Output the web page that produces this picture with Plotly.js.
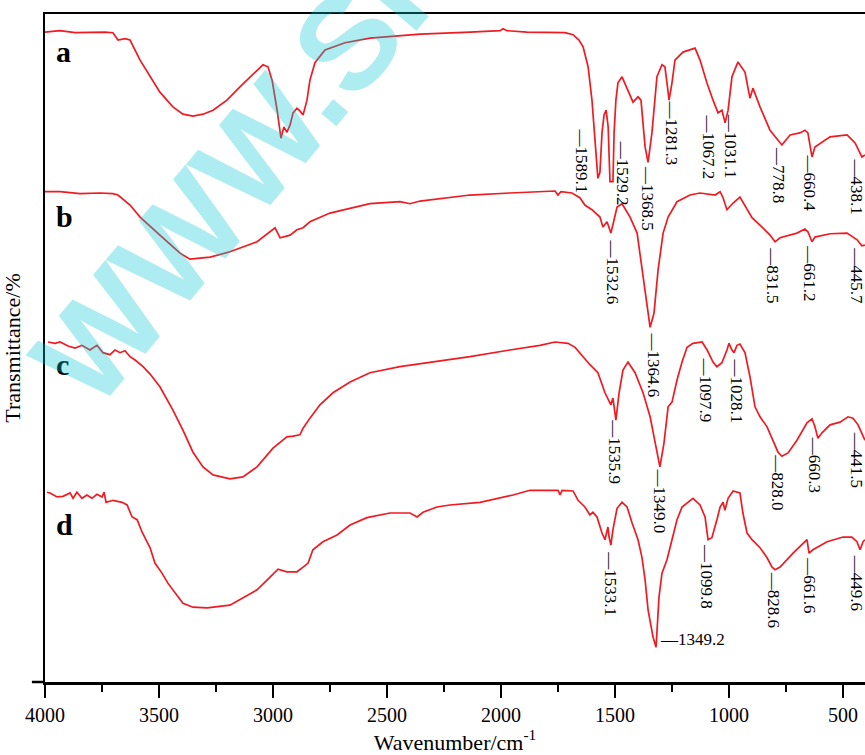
<!DOCTYPE html>
<html>
<head>
<meta charset="utf-8">
<script src="https://cdn.plot.ly/plotly-3.0.1.min.js"></script>
<style>html,body{margin:0;padding:0;background:#fff;}#chart{width:865px;height:755px;}</style>
</head>
<body>
<div id="chart"></div>
<script>
// ---- Data (wavenumber in cm-1, transmittance in stacked % units) ----
const sampleNames = ['a', 'b', 'c', 'd'];

const wnA = [4000,3934,3868,3803,3737,3702,3680,3649,3627,3583,3539,3496,3439,3395,3351,3307,3263,3202,3145,3088,3044,3022,3004,2982,2965,2952,2939,2925,2912,2895,2882,2868,2851,2838,2816,2772,2684,2575,2355,2136,2004,1991,1974,1886,1754,1719,1684,1658,1640,1618,1601,1588,1575,1566,1557,1548,1539,1530,1522,1509,1504,1496,1487,1469,1443,1421,1399,1386,1368,1355,1338,1316,1294,1281,1272,1263,1250,1237,1202,1171,1149,1127,1097,1070,1048,1031,1017,1004,987,961,930,908,895,864,820,768,732,689,667,654,636,623,557,482,447,417,404];
const tA = [97.3,97.5,97.2,97.3,97.3,97.2,96.1,96.3,96.1,93.1,90.6,88.3,86.1,85.0,84.7,85.0,85.6,87.1,89.1,91.0,92.4,92.1,90.1,85.6,81.4,83.1,82.3,83.4,85.2,85.9,85.5,84.9,87.1,90.1,92.7,94.6,95.7,96.4,97.0,97.3,97.5,97.8,97.5,97.3,97.3,97.2,96.9,96.1,95.1,92.1,87.1,81.1,75.4,76.3,82.2,84.9,85.6,83.1,74.9,74.9,82.2,87.1,89.7,90.6,88.6,86.8,87.6,87.1,80.1,77.8,82.2,90.6,92.4,92.1,89.7,87.1,89.7,93.1,94.3,94.6,94.9,93.1,89.7,87.1,85.2,85.6,83.7,85.6,90.6,92.8,91.3,87.4,88.9,86.1,82.6,80.4,81.9,82.2,82.6,82.2,78.6,80.1,81.6,81.9,80.7,78.6,78.9];

const wnB = [4000,3934,3846,3759,3702,3680,3627,3583,3496,3408,3364,3276,3189,3070,2991,2969,2925,2895,2868,2838,2750,2575,2443,2399,2355,2224,2136,1961,1798,1763,1750,1737,1689,1654,1632,1601,1566,1553,1535,1518,1504,1491,1469,1434,1403,1382,1359,1346,1329,1311,1289,1267,1228,1171,1127,1061,1039,1026,1009,982,952,930,899,855,820,798,776,702,667,654,636,623,557,482,438,417,404];
const tB = [73.4,73.4,73.1,73.2,73.1,72.9,71.4,69.6,66.9,64.2,63.3,63.6,64.4,65.9,68.0,66.5,66.9,67.7,68.0,68.9,70.2,71.6,71.9,71.6,72.0,72.5,72.9,73.2,73.5,73.5,72.9,73.4,73.2,72.5,71.4,70.7,69.6,68.1,68.9,67.2,69.2,71.1,71.6,69.6,67.2,62.1,56.1,53.1,55.2,61.7,67.2,69.6,71.9,72.9,73.2,72.9,73.4,72.5,70.7,71.7,72.6,71.4,69.5,68.1,66.9,65.9,66.5,67.2,67.8,67.4,65.9,66.6,67.1,67.2,66.2,65.3,65.4];

const wnC = [3987,3956,3934,3899,3868,3838,3803,3772,3746,3715,3693,3671,3649,3627,3605,3570,3539,3496,3439,3395,3351,3307,3263,3189,3132,3070,3000,2939,2912,2882,2868,2838,2794,2737,2662,2575,2443,2311,2136,1961,1829,1763,1706,1675,1640,1610,1575,1544,1518,1509,1496,1482,1465,1443,1412,1377,1346,1320,1303,1285,1267,1250,1228,1206,1184,1158,1118,1096,1070,1053,1031,1009,1000,987,978,965,952,930,908,886,864,833,807,785,768,741,702,658,636,623,610,592,557,513,478,456,434,417,404];
const tC = [50.9,50.7,50.9,50.3,50.0,50.4,49.7,50.4,49.3,49.0,49.7,49.3,49.6,48.7,48.2,47.2,46.1,44.2,40.7,37.7,34.4,32.2,31.0,30.4,30.7,32.2,35.0,36.7,36.8,37.0,38.0,39.5,41.5,43.3,44.9,46.3,47.2,47.8,48.7,49.7,50.4,50.9,50.7,50.1,48.7,47.5,46.3,43.3,41.5,42.5,39.2,43.3,46.7,47.9,46.3,43.3,39.7,35.2,32.2,35.8,41.2,41.9,45.2,47.9,50.1,50.7,50.9,49.7,47.9,47.2,47.8,49.7,50.7,49.7,49.3,50.4,50.6,49.3,45.7,41.2,39.7,38.2,36.2,34.4,33.8,34.3,36.2,38.8,39.4,38.2,36.5,37.3,38.5,38.9,39.7,39.5,38.5,37.3,36.2];

const wnD = [3991,3978,3947,3921,3890,3877,3860,3838,3816,3794,3772,3750,3741,3732,3702,3662,3640,3618,3596,3575,3553,3539,3518,3487,3461,3421,3395,3351,3289,3189,3132,3070,3013,2978,2939,2895,2868,2846,2825,2781,2719,2662,2588,2487,2399,2368,2342,2281,2224,2092,1947,1873,1750,1741,1732,1684,1662,1632,1610,1597,1579,1557,1544,1531,1526,1518,1509,1491,1469,1447,1425,1399,1382,1368,1355,1342,1333,1320,1316,1307,1294,1272,1250,1228,1206,1158,1127,1105,1092,1075,1053,1039,1026,1018,1004,982,952,939,921,899,864,833,811,798,776,719,658,649,632,570,500,461,439,425,412,404];
const tD = [28.4,28.3,27.7,27.8,28.3,27.5,28.4,27.5,28.0,27.5,28.1,27.7,28.4,26.9,27.2,26.9,26.5,24.7,24.3,22.5,21.0,20.1,17.8,16.3,14.8,13.0,11.8,11.2,11.1,11.5,12.6,13.8,15.7,16.9,16.5,16.5,17.2,17.8,19.8,21.0,22.0,23.5,24.6,25.3,25.3,24.7,25.4,26.2,26.5,26.9,28.0,28.7,28.7,28.0,28.7,28.6,27.2,26.2,25.0,25.4,24.7,22.3,21.3,23.2,21.7,20.5,22.8,26.0,26.9,26.2,23.8,21.3,18.7,15.3,10.8,8.2,6.7,5.2,8.2,12.7,16.3,18.3,21.3,24.3,26.2,27.5,26.5,24.7,21.3,21.6,24.3,26.2,26.9,25.7,27.5,28.6,28.3,25.3,22.3,21.3,20.1,18.6,17.2,16.8,17.2,19.3,21.3,19.3,19.8,21.0,21.7,21.7,21.0,19.8,21.0,21.3];

const tickVals = [4000, 3500, 3000, 2500, 2000, 1500, 1000, 500];
const tickText = ['4000', '3500', '3000', '2500', '2000', '1500', '1000', '500'];

// Peak labels (text) per sample
const peaksA = ['1589.1', '1529.2', '1368.5', '1281.3', '1067.2', '1031.1', '778.8', '660.4', '438.1'];
const peaksB = ['1532.6', '1364.6', '831.5', '661.2', '445.7'];
const peaksC = ['1535.9', '1349.0', '1097.9', '1028.1', '828.0', '660.3', '441.5'];
const peaksD = ['1533.1', '1349.2', '1099.8', '828.6', '661.6', '449.6'];

// ---- Label placement (wavenumber, transmittance of the label's top end) ----
const posA = [[1645,83.1],[1469,81.4],[1355,77.6],[1254,87.4],[1088,85.2],[996,85.3],[785,80.4],[645,79.2],[441,78.6]];
const posB = [[1513,66.6],[1333,52.7],[807,65.4],[645,65.7],[441,65.4]];
const posC = [[1500,39.7],[1303,32.2],[1101,48.8],[969,48.8],[785,34.4],[627,37.0],[441,37.7]];
const posD = [[1518,19.8],[1311,6.3],[1096,21.0],[807,16.8],[645,19.0],[441,19.3]];

const lineColor = '#f01a22';
const serif = 'Liberation Serif, Times New Roman, serif';

function trace(x, y, name) {
  return {x: x, y: y, name: name, type: 'scatter', mode: 'lines',
          line: {color: lineColor, width: 1.7}, hoverinfo: 'skip', showlegend: false};
}

const data = [trace(wnA, tA, 'a'), trace(wnB, tB, 'b'), trace(wnC, tC, 'c'), trace(wnD, tD, 'd')];

const annotations = [];
function addPeaks(texts, pos, horizontalIdx) {
  texts.forEach((t, i) => {
    if (i === horizontalIdx) {
      annotations.push({x: pos[i][0], y: pos[i][1], xref: 'x', yref: 'y', text: '\u2014' + t,
        showarrow: false, xanchor: 'left', yanchor: 'middle', font: {family: serif, size: 17, color: '#000'}});
    } else {
      annotations.push({x: pos[i][0], y: pos[i][1], xref: 'x', yref: 'y', text: '\u2014' + t, textangle: 90,
        showarrow: false, xanchor: 'center', yanchor: 'top', font: {family: serif, size: 17, color: '#000'}});
    }
  });
}
addPeaks(peaksA, posA, -1);
addPeaks(peaksB, posB, -1);
addPeaks(peaksC, posC, -1);
addPeaks(peaksD, posD, 1);

// sample letters
const letterY = [0.944, 0.697, 0.476, 0.236];
sampleNames.forEach((n, i) => {
  annotations.push({x: 0.011, y: letterY[i], xref: 'paper', yref: 'paper', text: '<b>' + n + '</b>',
    showarrow: false, xanchor: 'left', yanchor: 'middle', font: {family: serif, size: 30, color: '#000'}});
});

// watermark
annotations.push({x: 0.246, y: 0.777, xref: 'paper', yref: 'paper', text: '<b>WWW.SP</b>', textangle: -50,
  showarrow: false, xanchor: 'center', yanchor: 'middle',
  font: {family: 'Liberation Sans, Arial, sans-serif', size: 132, color: 'rgba(0,200,212,0.32)'}});

const layout = {
  width: 865, height: 755,
  margin: {l: 45, r: 0, t: 14, b: 73},
  paper_bgcolor: '#fff', plot_bgcolor: '#fff',
  showlegend: false,
  xaxis: {
    range: [4000, 403.5], autorange: false,
    tickvals: tickVals, ticktext: tickText,
    ticks: 'outside', ticklen: 13, tickwidth: 2.5, tickcolor: '#000',
    minor: {dtick: 250, tick0: 0, ticks: 'outside', ticklen: 7, tickwidth: 2.5, tickcolor: '#000', showgrid: false},
    showline: true, linewidth: 2.5, linecolor: '#000', mirror: true,
    showgrid: false, zeroline: false,
    tickfont: {family: serif, size: 20, color: '#000'},
    title: {text: 'Wavenumber/cm<sup>-1</sup>', font: {family: serif, size: 22, color: '#000'}, standoff: 10}
  },
  yaxis: {
    range: [0, 100], autorange: false,
    showticklabels: false, ticks: '',
    showline: true, linewidth: 2.5, linecolor: '#000',
    showgrid: false, zeroline: false,
    title: {text: 'Transmittance/%', font: {family: serif, size: 22, color: '#000'}}
  },
  shapes: [
    {type: 'line', xref: 'paper', yref: 'paper', x0: -0.016, x1: 0, y0: 0, y1: 0,
     line: {color: '#000', width: 2.5}}
  ],
  annotations: annotations
};

Plotly.newPlot('chart', data, layout, {displayModeBar: false, staticPlot: true});
</script>
</body>
</html>
